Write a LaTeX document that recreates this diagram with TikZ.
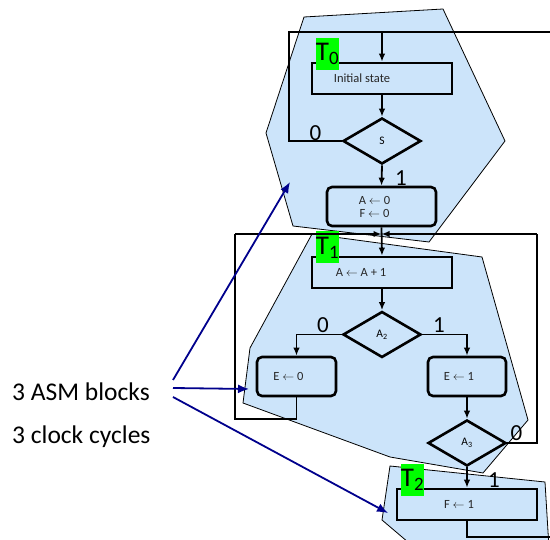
\documentclass[tikz,border=0pt]{standalone}
\usepackage{fontspec}
\setmainfont{Carlito}
\usetikzlibrary{shapes.geometric,arrows.meta}

\definecolor{blobblue}{RGB}{204,228,250}
\definecolor{tgreen}{RGB}{0,255,0}
\definecolor{pointblue}{RGB}{0,0,140}

\tikzset{
  blob/.style={fill=blobblue, draw=black, line width=0.8pt},
  statebox/.style={draw, line width=2.6pt, minimum width=140pt, minimum height=31pt, inner sep=0pt},
  condbox/.style={draw, line width=2.6pt, rounded corners=5pt, minimum height=39pt, inner sep=0pt},
  decision/.style={diamond, draw, line width=2.6pt, minimum width=78pt, minimum height=46pt, inner sep=0pt, font=\fontsize{11.5}{12}\selectfont},
  boxtext/.style={font=\fontsize{12.5}{13}\selectfont, align=center, inner sep=0pt, text=black!85},
  tlabel/.style={fill=tgreen, minimum width=21pt, minimum height=32pt, inner sep=0pt, font=\fontsize{27}{27}\selectfont},
  bit/.style={font=\fontsize{23}{23}\selectfont, inner sep=0pt},
  wire/.style={line width=1.8pt},
  flow/.style={line width=1.8pt, -{Latex[length=8pt,width=6.5pt]}},
  pointer/.style={pointblue, line width=1.8pt, -{Latex[length=11pt,width=9pt]}},
  note/.style={font=\fontsize{25.5}{25.5}\selectfont, anchor=west, inner sep=0pt}
}

\begin{document}
\begin{tikzpicture}[x=1pt,y=-1pt]
    \useasboundingbox (0,0) rectangle (550,540);
    \clip (0,0) rectangle (550,540);

    % the three ASM blocks
    \draw[blob] (304,17) -- (443,9) -- (505,141) -- (429,242) -- (293,226) -- (266,133) -- cycle;
    \draw[blob] (312,234) -- (482,257) -- (528,420) -- (483,473) -- (390,457) -- (243,403) -- (250,348) -- cycle;
    \draw[blob] (390,466) -- (545,482) -- (549,548) -- (415,548) -- (382,520) -- cycle;

    % block T0
    \node[statebox, label={[boxtext, xshift=-20pt]center:Initial state}] (init) at (382,78.5) {};
    \node[decision] (s) at (382,141) {S};
    \node[condbox, minimum width=109pt, label={[boxtext, xshift=-7pt]center:A $\leftarrow$ 0\\F $\leftarrow$ 0}] (az) at (381.5,206.5) {};
    \node[tlabel] (tz) at (327.5,54) {T\textsubscript{0}};

    % block T1
    \node[statebox, label={[boxtext, xshift=-21pt]center:A $\leftarrow$ A + 1}] (inc) at (382,272.5) {};
    \node[tlabel] (to) at (327.5,247.5) {T\textsubscript{1}};
    \node[decision] (atwo) at (382,334.5) {A\textsubscript{2}};
    \node[condbox, minimum width=79pt, label={[boxtext, xshift=-8pt]center:E $\leftarrow$ 0}] (ezero) at (296.5,376.5) {};
    \node[condbox, minimum width=78pt, label={[boxtext, xshift=-8pt]center:E $\leftarrow$ 1}] (eone) at (467,376.5) {};
    \node[decision] (athree) at (467,443) {A\textsubscript{3}};

    % block T2
    \node[statebox, label={[boxtext, xshift=-8pt]center:F $\leftarrow$ 1}] (fone) at (467,504.5) {};
    \node[tlabel] (tt) at (412.5,480) {T\textsubscript{2}};

    % branch values
    \node[bit] (szero) at (315.5,133) {0};
    \node[bit] (sone) at (401,178.5) {1};
    \node[bit] (azero) at (323,325.5) {0};
    \node[bit] (aone) at (439,325.5) {1};
    \node[bit] (bzero) at (516.5,433) {0};
    \node[bit] (bone) at (494,480) {1};

    % loop corners and junctions
    \coordinate (topleft) at (289,32);
    \coordinate (topright) at (550,32);
    \coordinate (topjoin) at (382,32);
    \coordinate (midjoin) at (381.5,234);
    \coordinate (midleft) at (235,234);
    \coordinate (midright) at (537,234);
    \coordinate (lowleft) at (235,419);
    \coordinate (lowright) at (537,443);
    \coordinate (outright) at (550,537);

    % connectors
    \draw[wire] (s.west) -| (topleft) -- (topright);
    \draw[flow] (topjoin) -- (init.north);
    \draw[flow] (init.south) -- (s.north);
    \draw[flow] (s.south) -- (az.north);
    \draw[flow] (az.south) -- (inc.north);
    \draw[wire] (ezero.south) |- (lowleft) -- (midleft);
    \draw[flow] (midleft) -- (midjoin);
    \draw[wire] (athree.east) -- (lowright) -- (midright);
    \draw[flow] (midright) -- (midjoin);
    \draw[flow] (inc.south) -- (atwo.north);
    \draw[flow] (atwo.west) -| (ezero.north);
    \draw[flow] (atwo.east) -| (eone.north);
    \draw[flow] (eone.south) -- (athree.north);
    \draw[flow] (athree.south) -- (fone.north);
    \draw[wire] (fone.south) |- (outright);

    % notes
    \node[note] (asm) at (12,392) {3 ASM blocks};
    \node[note] (clk) at (12,437) {3 clock cycles};
    \coordinate (pa) at (173,380);
    \coordinate (pb) at (173,388);
    \coordinate (pc) at (173,397);
    \coordinate (ta) at (290,182);
    \coordinate (tb) at (249,389);
    \coordinate (tc) at (388,513);
    \draw[pointer] (pa) -- (ta);
    \draw[pointer] (pb) -- (tb);
    \draw[pointer] (pc) -- (tc);
\end{tikzpicture}
\end{document}
